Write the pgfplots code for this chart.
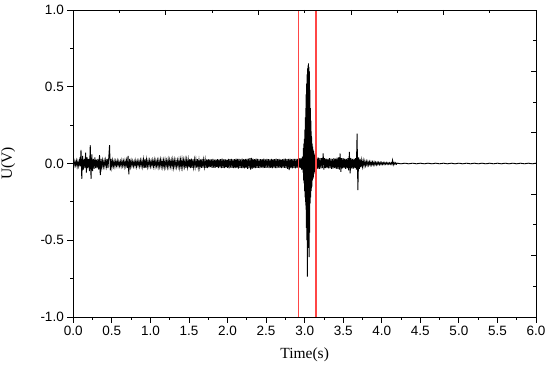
\documentclass[border=0pt]{standalone}
\usepackage{pgfplots}
\pgfplotsset{compat=1.18}
\usepackage{fontspec}
\setmainfont{Liberation Serif}
\newfontfamily\arialf{Liberation Sans}
\definecolor{redline}{RGB}{255,70,70}
\begin{document}
\begin{tikzpicture}
\path[use as bounding box] (-73.3pt,-55pt) rectangle (476.7pt,317pt);
\begin{axis}[
  at={(0,0)}, anchor=south west,
  scale only axis, width=462.7pt, height=307pt,
  xmin=0, xmax=6, ymin=-1, ymax=1,
  xtick={0,0.5,...,6}, minor xtick={0.25,0.75,...,5.75},
  ytick={-1,-0.5,0,0.5,1}, minor ytick={-0.75,-0.25,0.25,0.75},
  xtick pos=left, ytick pos=left,
  tick align=outside,
  major tick length=6pt, minor tick length=3pt,
  tick style={black, line width=0.8pt},
  axis line style={black, line width=0.9pt},
  xticklabel style={/pgf/number format/.cd, fixed, fixed zerofill, precision=1},
  yticklabel style={/pgf/number format/.cd, fixed, fixed zerofill, precision=1},
  /pgf/number format/assume math mode=true,
  ticklabel style={font=\arialf\fontsize{13.5}{15}\selectfont},
  xlabel={Time(s)}, ylabel={U(V)},
  label style={font=\fontsize{15.5}{17}\selectfont},
  xlabel style={at={(axis description cs:0.5,-0.124)}, anchor=center},
  ylabel style={at={(axis description cs:-0.141,0.5)}, anchor=center},
  clip=true,
]
\addplot[black, line width=0.9pt] coordinates {
(0.00,0.010)(0.01,-0.014)(0.02,0.016)(0.03,-0.012)(0.04,0.018)(0.05,-0.020)(0.06,0.014)(0.07,-0.016)(0.08,0.020)(0.09,-0.018)
(0.10,0.088)(0.11,-0.100)(0.12,0.050)(0.13,-0.040)(0.14,0.030)(0.15,-0.030)(0.16,0.070)(0.17,-0.060)(0.18,0.040)(0.19,-0.030)
(0.20,0.030)(0.21,-0.050)(0.22,0.120)(0.23,-0.100)(0.24,0.060)(0.25,-0.050)(0.26,0.030)(0.27,-0.035)(0.28,0.040)(0.29,-0.030)
(0.30,0.025)(0.31,-0.030)(0.32,0.030)(0.33,-0.040)(0.34,0.055)(0.35,-0.076)(0.36,0.030)(0.37,-0.025)(0.38,0.020)(0.39,-0.020)
(0.40,0.018)(0.41,-0.020)(0.42,0.022)(0.43,-0.018)(0.44,0.030)(0.45,-0.030)(0.46,0.040)(0.47,0.120)(0.48,-0.045)(0.49,0.030)
(0.50,-0.025)(0.51,0.020)(0.52,-0.018)(0.53,0.015)(0.54,-0.020)(0.55,0.016)(0.56,-0.014)(0.57,0.018)(0.58,-0.015)(0.59,0.014)
(0.60,-0.016)(0.61,0.014)(0.62,-0.018)(0.63,0.020)(0.64,-0.015)(0.65,0.016)(0.66,-0.020)(0.67,0.018)(0.68,-0.016)(0.69,0.020)
(0.70,-0.030)(0.71,0.050)(0.72,-0.070)(0.73,0.030)(0.74,-0.020)(0.75,0.018)(0.76,-0.016)(0.77,0.015)(0.78,-0.018)(0.79,0.014)
(0.80,-0.016)(0.81,0.018)(0.82,-0.020)(0.83,0.015)(0.84,-0.014)(0.85,0.016)(0.86,-0.018)(0.87,0.020)(0.88,-0.016)(0.89,0.018)
(0.90,-0.020)(0.91,0.025)(0.92,-0.030)(0.93,0.030)(0.94,-0.028)(0.95,0.025)(0.96,-0.020)(0.97,0.018)(0.98,-0.016)(0.99,0.020)
(1.00,-0.018)(1.01,0.016)(1.02,-0.015)(1.03,0.020)(1.04,-0.018)(1.05,0.022)(1.06,-0.020)(1.07,0.018)(1.08,-0.016)(1.09,0.020)
(1.10,-0.022)(1.11,0.020)(1.12,-0.018)(1.13,0.024)(1.14,-0.020)(1.15,0.018)(1.16,-0.022)(1.17,0.020)(1.18,-0.024)(1.19,0.022)
(1.20,-0.020)(1.21,0.018)(1.22,-0.022)(1.23,0.025)(1.24,-0.020)(1.25,0.022)(1.26,-0.018)(1.27,0.020)(1.28,-0.022)(1.29,0.024)
(1.30,-0.025)(1.31,0.022)(1.32,-0.020)(1.33,0.018)(1.34,-0.022)(1.35,0.020)(1.36,-0.018)(1.37,0.022)(1.38,-0.025)(1.39,0.024)
(1.40,-0.022)(1.41,0.026)(1.42,-0.024)(1.43,0.022)(1.44,-0.020)(1.45,0.025)(1.46,-0.028)(1.47,0.024)(1.48,-0.022)(1.49,0.026)
(1.50,-0.025)(1.51,0.028)(1.52,-0.030)(1.53,0.032)(1.54,-0.028)(1.55,0.026)(1.56,-0.024)(1.57,0.025)(1.58,-0.022)(1.59,0.024)
(1.60,-0.026)(1.61,0.028)(1.62,-0.025)(1.63,0.022)(1.64,-0.024)(1.65,0.026)(1.66,-0.028)(1.67,0.030)(1.68,-0.026)(1.69,0.024)
(1.70,-0.022)(1.71,0.025)(1.72,-0.028)(1.73,0.026)(1.74,-0.030)(1.75,0.028)(1.76,-0.025)(1.77,0.027)(1.78,-0.024)(1.79,0.026)
(1.80,-0.028)(1.81,0.030)(1.82,-0.027)(1.83,0.025)(1.84,-0.028)(1.85,0.026)(1.86,-0.024)(1.87,0.028)(1.88,-0.030)(1.89,0.027)
(1.90,-0.025)(1.91,0.028)(1.92,-0.030)(1.93,0.032)(1.94,-0.028)(1.95,0.026)(1.96,-0.030)(1.97,0.028)(1.98,-0.026)(1.99,0.025)
(2.00,-0.028)(2.01,0.030)(2.02,-0.032)(2.03,0.028)(2.04,-0.026)(2.05,0.030)(2.06,-0.028)(2.07,0.026)(2.08,-0.030)(2.09,0.028)
(2.10,-0.030)(2.11,0.032)(2.12,-0.028)(2.13,0.030)(2.14,-0.033)(2.15,0.030)(2.16,-0.028)(2.17,0.026)(2.18,-0.030)(2.19,0.032)
(2.20,-0.030)(2.21,0.028)(2.22,-0.032)(2.23,0.030)(2.24,-0.028)(2.25,0.030)(2.26,-0.034)(2.27,0.032)(2.28,-0.030)(2.29,0.035)
(2.30,-0.040)(2.31,0.036)(2.32,-0.034)(2.33,0.032)(2.34,-0.030)(2.35,0.028)(2.36,-0.030)(2.37,0.032)(2.38,-0.028)(2.39,0.030)
(2.40,-0.028)(2.41,0.026)(2.42,-0.030)(2.43,0.028)(2.44,-0.026)(2.45,0.028)(2.46,-0.030)(2.47,0.032)(2.48,-0.028)(2.49,0.026)
(2.50,-0.028)(2.51,0.030)(2.52,-0.026)(2.53,0.028)(2.54,-0.030)(2.55,0.026)(2.56,-0.028)(2.57,0.030)(2.58,-0.032)(2.59,0.028)
(2.60,-0.026)(2.61,0.028)(2.62,-0.030)(2.63,0.032)(2.64,-0.030)(2.65,0.028)(2.66,-0.026)(2.67,0.030)(2.68,-0.028)(2.69,0.026)
(2.70,-0.030)(2.71,0.028)(2.72,-0.026)(2.73,0.030)(2.74,-0.028)(2.75,0.032)(2.76,-0.030)(2.77,0.028)(2.78,-0.034)(2.79,0.030)
(2.80,-0.043)(2.81,0.032)(2.82,-0.030)(2.83,0.028)(2.84,-0.032)(2.85,0.030)(2.86,-0.028)(2.87,0.030)(2.88,-0.032)(2.89,0.030)
(2.90,-0.028)(2.91,0.030)(2.92,-0.032)(2.93,0.034)(2.94,-0.030)(2.95,0.035)(2.96,-0.040)(2.97,0.045)(2.98,-0.060)
(2.984,0.10)(2.987,-0.11)(2.990,0.13)(2.993,-0.13)(2.996,0.16)(2.999,-0.18)(3.002,0.22)(3.005,-0.22)(3.008,0.30)(3.011,-0.25)
(3.014,0.36)(3.017,-0.30)(3.020,0.45)(3.023,-0.42)(3.026,0.52)(3.029,-0.50)(3.032,0.58)(3.035,-0.737)(3.038,0.62)(3.041,-0.55)
(3.044,0.64)(3.047,-0.50)(3.050,0.653)(3.053,-0.52)(3.056,0.63)(3.059,-0.61)(3.062,0.60)(3.065,-0.45)(3.068,0.48)(3.071,-0.26)
(3.074,0.36)(3.077,-0.22)(3.080,0.28)(3.083,-0.18)(3.086,0.21)(3.089,-0.16)(3.092,0.17)(3.095,-0.15)(3.098,0.13)(3.101,-0.11)
(3.104,0.11)(3.107,-0.10)(3.110,0.09)(3.113,-0.09)(3.116,0.08)(3.119,-0.07)(3.122,0.065)(3.125,-0.06)(3.128,0.055)(3.131,-0.05)
(3.134,0.05)(3.137,-0.045)(3.140,0.045)
(3.15,-0.040)(3.16,0.040)(3.17,-0.035)(3.18,0.038)(3.19,-0.035)
(3.20,0.035)(3.21,-0.032)(3.22,0.035)(3.23,-0.030)(3.24,0.065)(3.25,-0.040)(3.26,0.035)(3.27,-0.030)(3.28,0.032)(3.29,-0.030)
(3.30,0.030)(3.31,-0.032)(3.32,0.034)(3.33,-0.030)(3.34,0.032)(3.35,-0.035)(3.36,0.030)(3.37,-0.032)(3.38,0.035)(3.39,-0.030)
(3.40,0.032)(3.41,-0.035)(3.42,0.038)(3.43,-0.035)(3.44,0.040)(3.45,-0.040)(3.46,0.065)(3.47,-0.055)(3.48,0.035)(3.49,-0.032)
(3.50,0.034)(3.51,-0.030)(3.52,0.032)(3.53,-0.035)(3.54,0.030)(3.55,-0.032)(3.56,0.035)(3.57,-0.045)(3.58,0.076)(3.59,-0.065)
(3.60,0.035)(3.61,-0.032)(3.62,0.030)(3.63,-0.035)(3.64,0.032)(3.65,-0.030)(3.66,0.035)(3.67,-0.040)(3.68,0.195)(3.69,-0.174)
(3.70,0.040)(3.71,-0.035)(3.72,0.030)(3.73,-0.025)(3.74,0.022)(3.75,-0.020)(3.76,0.018)(3.77,-0.016)(3.78,0.015)(3.79,-0.014)
(3.80,0.014)(3.81,-0.012)(3.82,0.013)(3.83,-0.011)(3.84,0.012)(3.85,-0.010)(3.86,0.011)(3.87,-0.010)(3.88,0.010)(3.89,-0.009)
(3.90,0.010)(3.91,-0.009)(3.92,0.008)(3.93,-0.009)(3.94,0.008)(3.95,-0.007)(3.96,0.008)(3.97,-0.007)(3.98,0.007)(3.99,-0.006)
(4.00,0.007)(4.01,-0.006)(4.02,0.006)(4.03,-0.006)(4.04,0.006)(4.05,-0.005)(4.06,0.006)(4.07,-0.005)(4.08,0.005)(4.09,-0.005)
(4.10,0.005)(4.11,-0.005)(4.12,0.005)(4.13,-0.005)(4.14,0.022)(4.15,-0.008)(4.16,0.006)(4.17,-0.005)(4.18,0.005)(4.19,-0.005)
(4.20,0.002)(4.25,-0.002)(4.30,0.002)(4.35,-0.002)(4.40,0.002)(4.45,-0.002)(4.50,0.002)(4.55,-0.002)(4.60,0.002)(4.65,-0.002)
(4.70,0.002)(4.75,-0.002)(4.80,0.002)(4.85,-0.002)(4.90,0.002)(4.95,-0.002)(5.00,0.002)(5.05,-0.002)(5.10,0.002)(5.15,-0.002)
(5.20,0.002)(5.25,-0.002)(5.30,0.002)(5.35,-0.002)(5.40,0.002)(5.45,-0.002)(5.50,0.002)(5.55,-0.002)(5.60,0.002)(5.65,-0.002)
(5.70,0.002)(5.75,-0.002)(5.80,0.002)(5.85,-0.002)(5.90,0.002)(5.95,-0.002)(6.00,0.002)
};
\addplot[draw=redline, line width=1.2pt, forget plot] coordinates {(3.146,-1)(3.146,1)};
\addplot[draw=redline, line width=1.2pt, forget plot] coordinates {(2.92,-1)(2.92,1)};
\end{axis}
\begin{axis}[
  at={(0,0)}, anchor=south west,
  scale only axis, width=462.7pt, height=307pt,
  xmin=0, xmax=1, ymin=0, ymax=1,
  xtick={0.2,0.4,0.6,0.8}, minor xtick={0.1,0.3,0.5,0.7,0.9},
  ytick={0.2,0.4,0.6,0.8}, minor ytick={0.1,0.3,0.5,0.7,0.9},
  xticklabels={}, yticklabels={},
  xtick pos=right, ytick pos=right,
  tick align=inside,
  major tick length=5pt, minor tick length=3pt,
  tick style={black, line width=0.8pt},
  axis line style={black, line width=0.9pt},
]
\end{axis}
\end{tikzpicture}
\end{document}
